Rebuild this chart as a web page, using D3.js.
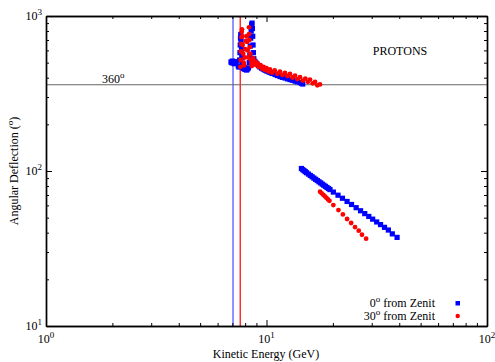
<!DOCTYPE html>
<html><head><meta charset="utf-8">
<script src="https://cdn.jsdelivr.net/npm/d3@7"></script>
<style>body{margin:0;background:#fff}svg{display:block}text{font-family:"Liberation Serif","Times New Roman",serif;fill:#000}</style>
</head><body><svg id="c" width="495" height="362"></svg>
<script>
// 0 deg from zenith (blue squares)
const blueE=[6.90,6.95,7.00,7.05,7.10,7.16,7.22,7.28,
 7.45,7.50,7.55,7.58,7.60,7.62,7.64,7.67,7.70,7.73,7.76,7.80,7.85,
 7.92,7.98,8.05,8.12,8.20,8.28,
 8.35,8.40,8.44,8.48,8.52,8.56,8.60,8.63,8.66,8.69,8.72,8.76,
 8.85,8.96,9.08,9.20,9.34,9.50,9.66,9.84,10.0,10.2,10.37,10.6,10.93,11.2,11.51,11.8,12.13,12.45,12.78,13.1,13.47,13.8,14.19,14.4,14.6,
 14.4,14.6,14.8,15.0,15.2,15.5,15.8,16.1,16.4,16.7,17.0,17.3,17.6,17.9,18.2,18.5,18.8,19.1,19.4,
 20.1,21.1,22.1,23.2,24.3,25.5,26.7,27.9,29.1,30.3,31.6,32.9,34.3,35.7,37.2,39.1];
const blueA=[505,500,512,497,503,492,500,508,
 475,468,520,580,650,720,760,690,610,540,495,470,458,
 465,452,460,448,455,462,
 500,560,640,720,800,880,900,830,740,650,580,530,
 510,498,488,478,469,461,454,447,442,437,432,426,419,413,407,402,398,393,389,385,380,376,372,368,364,
 103.8,102,100.5,99,97.5,95.5,93.6,91.8,90,88.4,86.8,85.2,83.8,82.3,80.9,79.6,78.3,77.1,75.9,
 73.1,69.8,66.7,63.6,60.8,58.0,55.4,53.1,50.9,48.9,46.9,45.1,43.3,41.6,39.3,37.3];
// 30 deg from zenith (red dots)
const redE=[7.62,7.64,7.66,7.68,7.70,7.72,7.74,7.77,7.80,7.84,7.88,7.92,7.97,8.02,8.07,8.12,8.17,8.22,8.27,8.33,8.33,8.36,8.40,8.45,8.50,8.55,8.58,8.62,
 8.70,8.80,8.90,9.00,9.12,9.25,9.40,9.55,9.70,9.84,10.0,10.2,10.37,10.6,10.9,11.2,11.51,11.8,12.13,12.45,12.78,13.1,13.47,13.8,14.19,14.6,15.0,15.4,15.75,16.2,16.6,17.0,17.48,
 17.5,17.8,18.1,18.4,18.7,19.0,19.3,20.1,21.2,22.2,23.2,24.2,25.2,26.2,27.1,28.3];
const redA=[470,520,590,660,730,790,821,740,650,570,500,480,540,610,690,740,680,600,540,845,765,700,630,570,520,490,475,500,
 535,500,510,482,494,469,482,457,470,448,461,438,453,431,445,424,438,417,429,410,423,401,413,392,403,383,395,376,389,368,376,357,362,
 73.5,71.8,70.2,68.6,67.1,65.6,64.2,60.3,56.0,52.5,49.0,46.2,43.5,41.2,38.8,36.6];
const cutoffE=[7.05,7.6];
const cutoffColors=["#4a4aff","#ff0000"];
const refAngle=[360];
const xMajor=[1,10,100];
const yMajor=[10,100,1000];
const xMinor=[2,3,4,5,6,7,8,9,20,30,40,50,60,70,80,90];
const yMinor=[20,30,40,50,60,70,80,90,200,300,400,500,600,700,800,900];
const xExp=["0","1","2"];
const yExp=["1","2","3"];
const legendDeg=["0","30"];
const legendText=" from Zenit";

const FS=12, SS=9;
const svg=d3.select("#c");
const L=46,R=487,T=16,B=326;
const x=d3.scaleLog().domain([1,100]).range([L,R]);
const y=d3.scaleLog().domain([10,1000]).range([B,T]);

// reference lines
svg.selectAll("line.cut").data(cutoffE).enter().append("line")
 .attr("x1",d=>x(d)).attr("x2",d=>x(d)).attr("y1",T).attr("y2",B)
 .attr("stroke",(d,i)=>cutoffColors[i]).attr("stroke-width",1.2);
svg.selectAll("line.ref").data(refAngle).enter().append("line")
 .attr("x1",L).attr("x2",R).attr("y1",d=>y(d)).attr("y2",d=>y(d))
 .attr("stroke","#666").attr("stroke-width",1.2);
svg.append("text").attr("x",102).attr("y",y(refAngle[0])-1.5).attr("font-size",FS)
 .text("360").append("tspan").attr("dy",-5).attr("font-size",SS).text("o");

// data
const blue=blueE.map((e,i)=>[e,blueA[i]]);
const red=redE.map((e,i)=>[e,redA[i]]);
svg.append("g").selectAll("rect").data(blue).enter().append("rect")
 .attr("x",d=>x(d[0])-2.6).attr("y",d=>y(d[1])-2.6).attr("width",5.2).attr("height",5.2).attr("fill","#0000ff");
svg.append("g").selectAll("circle").data(red).enter().append("circle")
 .attr("cx",d=>x(d[0])).attr("cy",d=>y(d[1])).attr("r",2.4).attr("fill","#ff0000");

// axes
function ax(gen,tr,vals,len){
  svg.append("g").attr("transform",tr).call(gen.tickValues(vals).tickSize(-len).tickFormat("").tickSizeOuter(0))
   .call(g=>{g.select(".domain").attr("stroke","#000").attr("stroke-width",1.4);g.selectAll(".tick line").attr("stroke","#000");});
}
ax(d3.axisBottom(x),`translate(0,${B})`,xMinor,3);
ax(d3.axisBottom(x),`translate(0,${B})`,xMajor,6);
ax(d3.axisTop(x),`translate(0,${T})`,xMinor,3);
ax(d3.axisTop(x),`translate(0,${T})`,xMajor,6);
ax(d3.axisLeft(y),`translate(${L},0)`,yMinor,3);
ax(d3.axisLeft(y),`translate(${L},0)`,yMajor,6);
ax(d3.axisRight(y),`translate(${R},0)`,yMinor,3);
ax(d3.axisRight(y),`translate(${R},0)`,yMajor,6);

// tick labels
xMajor.forEach((v,i)=>{
  const t=svg.append("text").attr("x",x(v)).attr("y",B+17).attr("text-anchor","middle").attr("font-size",FS).text("10");
  t.append("tspan").attr("dy",-5).attr("font-size",SS).text(xExp[i]);
});
yMajor.forEach((v,i)=>{
  const t=svg.append("text").attr("x",42).attr("y",y(v)+4).attr("text-anchor","end").attr("font-size",FS).text("10");
  t.append("tspan").attr("dy",-5).attr("font-size",SS).text(yExp[i]);
});

// titles
svg.append("text").attr("x",266).attr("y",358).attr("text-anchor","middle").attr("font-size",FS).text("Kinetic Energy (GeV)");
const yt=svg.append("text").attr("transform","translate(18,171) rotate(-90)").attr("text-anchor","middle").attr("font-size",FS).text("Angular Deflection (");
yt.append("tspan").attr("dy",-5).attr("font-size",SS).text("o");
yt.append("tspan").attr("dy",5).text(")");
svg.append("text").attr("x",400).attr("y",55).attr("text-anchor","middle").attr("font-size",FS).text("PROTONS");

// legend
legendDeg.forEach((d,i)=>{
  const ly=307+i*13;
  const t=svg.append("text").attr("x",435).attr("y",ly).attr("text-anchor","end").attr("font-size",FS).text(d);
  t.append("tspan").attr("dy",-5).attr("font-size",SS).text("o");
  t.append("tspan").attr("dy",5).text(legendText);
});
svg.append("rect").attr("x",455.5).attr("y",301).attr("width",4.5).attr("height",4.5).attr("fill","#0000ff");
svg.append("circle").attr("cx",457.7).attr("cy",316).attr("r",2.2).attr("fill","#ff0000");
</script></body></html>
